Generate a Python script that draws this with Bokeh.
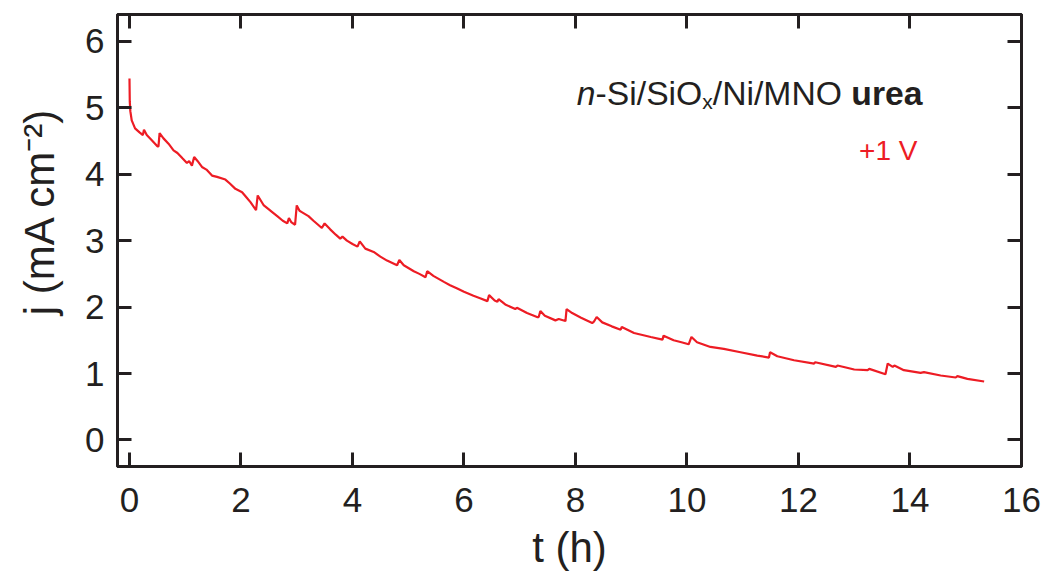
from bokeh.plotting import figure
from bokeh.models import Range1d, LinearAxis, Label, FixedTicker
from bokeh.embed import file_html
from bokeh.resources import INLINE

# ---- data ----
t_hours = [0.000, 0.005, 0.015, 0.04, 0.10, 0.18, 0.24, 0.26, 0.31, 0.40, 0.50, 0.52, 0.54,
           0.61, 0.70, 0.79, 0.86, 0.95, 1.03, 1.07, 1.12, 1.16, 1.22, 1.30, 1.38, 1.48, 1.57,
           1.72, 1.80, 1.90, 2.02, 2.10, 2.17, 2.27, 2.30, 2.41, 2.50, 2.56, 2.65, 2.75, 2.83,
           2.86, 2.90, 2.97, 3.00, 3.05, 3.09, 3.21, 3.30, 3.45, 3.50, 3.60, 3.70, 3.78, 3.82,
           3.90, 4.00, 4.09, 4.13, 4.23, 4.38, 4.50, 4.62, 4.80, 4.84, 4.92, 5.10, 5.20, 5.31,
           5.34, 5.45, 5.64, 5.75, 5.88, 6.00, 6.17, 6.30, 6.42, 6.45, 6.55, 6.60, 6.62, 6.74,
           6.92, 6.95, 7.13, 7.31, 7.34, 7.37, 7.45, 7.64, 7.70, 7.82, 7.84, 7.94, 8.10, 8.30,
           8.33, 8.38, 8.48, 8.65, 8.81, 8.83, 9.05, 9.20, 9.35, 9.56, 9.58, 9.76, 9.90, 10.03,
           10.08, 10.18, 10.42, 10.66, 10.96, 11.26, 11.47, 11.49, 11.62, 11.92, 12.28, 12.30,
           12.67, 12.70, 13.00, 13.24, 13.27, 13.56, 13.60, 13.69, 13.72, 13.89, 14.19, 14.25,
           14.55, 14.82, 14.85, 15.03, 15.33]
j_values = [5.44, 5.10, 4.95, 4.81, 4.69, 4.63, 4.59, 4.67, 4.59, 4.51, 4.42, 4.42, 4.62,
            4.54, 4.46, 4.36, 4.32, 4.24, 4.17, 4.20, 4.13, 4.26, 4.20, 4.11, 4.07, 3.98, 3.96,
            3.92, 3.86, 3.78, 3.73, 3.65, 3.58, 3.46, 3.68, 3.53, 3.47, 3.43, 3.37, 3.30, 3.26,
            3.34, 3.28, 3.24, 3.53, 3.45, 3.43, 3.37, 3.30, 3.19, 3.26, 3.17, 3.09, 3.03, 3.06,
            3.00, 2.95, 2.91, 2.99, 2.88, 2.83, 2.76, 2.70, 2.63, 2.71, 2.63, 2.54, 2.50, 2.45,
            2.54, 2.47, 2.38, 2.33, 2.28, 2.23, 2.17, 2.13, 2.09, 2.18, 2.10, 2.08, 2.12, 2.04,
            1.97, 1.99, 1.91, 1.85, 1.85, 1.94, 1.87, 1.80, 1.82, 1.79, 1.97, 1.91, 1.84, 1.76,
            1.78, 1.85, 1.77, 1.71, 1.66, 1.70, 1.61, 1.58, 1.55, 1.51, 1.57, 1.50, 1.47, 1.44,
            1.55, 1.47, 1.40, 1.37, 1.32, 1.27, 1.24, 1.32, 1.26, 1.20, 1.15, 1.17,
            1.10, 1.12, 1.06, 1.05, 1.07, 0.99, 1.15, 1.10, 1.12, 1.05, 1.01, 1.02,
            0.97, 0.94, 0.96, 0.92, 0.88]
x_ticks = [0, 2, 4, 6, 8, 10, 12, 14, 16]
y_ticks = [0, 1, 2, 3, 4, 5, 6]
x_title = "t (h)"
y_title = "j (mA cm\u207b\u00b2)"

# ---- layout / style ----
W, H = 1047, 574
L, R, T, B = 117, 1021, 14, 466
x0, x1 = -0.215, 16.0
y0, y1 = -0.40, 6.405
RED = "#ed1c24"
INK = "#231f20"
FONT = "Liberation Sans"


def dx(px):
    return x0 + (px - L) / (R - L) * (x1 - x0)


def dy(py):
    return y1 - (py - T) / (B - T) * (y1 - y0)


p = figure(width=W, height=H, x_range=Range1d(x0, x1), y_range=Range1d(y0, y1),
           output_backend="svg", toolbar_location=None,
           min_border_left=L, min_border_right=W - R, min_border_top=T, min_border_bottom=H - B)
p.grid.visible = False
p.background_fill_color = "white"
p.border_fill_color = "white"
p.outline_line_color = INK
p.outline_line_width = 3

p.line(t_hours, j_values, line_color=RED, line_width=2.2)

p.add_layout(LinearAxis(), "above")
p.add_layout(LinearAxis(), "right")

for ax in p.xaxis:
    ax.ticker = FixedTicker(ticks=x_ticks)
for ax in p.yaxis:
    ax.ticker = FixedTicker(ticks=y_ticks)

for ax in p.axis:
    ax.axis_line_color = INK
    ax.axis_line_width = 3
    ax.major_tick_line_color = INK
    ax.major_tick_line_width = 3
    ax.major_tick_in = 14
    ax.major_tick_out = 0
    ax.minor_tick_line_color = None
    ax.major_label_text_font = FONT
    ax.major_label_text_font_size = "35px"
    ax.major_label_text_color = INK
    ax.major_label_standoff = 13
    ax.axis_label = None

for ax in p.above + p.right:
    if isinstance(ax, LinearAxis):
        ax.major_label_text_font_size = "0px"
        ax.major_label_text_color = None
        ax.major_label_standoff = 0

xa = p.below[0]
xa.major_label_standoff = 21
xa.axis_label = x_title
xa.axis_label_text_font = FONT
xa.axis_label_text_font_size = "42px"
xa.axis_label_text_font_style = "normal"
xa.axis_label_text_color = INK
xa.axis_label_standoff = 9

ya = p.left[0]
ya.axis_label = "\u00a0" * 5 + y_title
ya.axis_label_text_font = FONT
ya.axis_label_text_font_size = "42px"
ya.axis_label_text_font_style = "normal"
ya.axis_label_text_color = INK
ya.axis_label_standoff = 19

# annotation "n-Si/SiOx/Ni/MNO urea"
fs = 33.7
base = 92
r_urea = 922
r_mno = r_urea - 2.112 * fs
r_x = r_mno - 4.111 * fs
r_si = r_x - 0.5 * 21
r_n = r_si - 3.167 * fs
pieces = [
    ("urea", r_urea, base, f"{fs}px", "bold"),
    ("/Ni/MNO ", r_mno, base, f"{fs}px", "normal"),
    ("x", r_x, base + 9, "21px", "normal"),
    ("-Si/SiO", r_si, base, f"{fs}px", "normal"),
    ("n", r_n, base, f"{fs}px", "italic"),
]
for txt, rx, by, size, style in pieces:
    p.add_layout(Label(x=dx(rx), y=dy(by), text=txt, text_align="right",
                       text_baseline="alphabetic", text_font=FONT, text_font_size=size,
                       text_font_style=style, text_color=INK))

p.add_layout(Label(x=dx(917), y=dy(150), text="+1 V", text_align="right",
                   text_baseline="alphabetic", text_font=FONT, text_font_size="28px",
                   text_color=RED))

open("out.html", "w").write(file_html(p, INLINE))
